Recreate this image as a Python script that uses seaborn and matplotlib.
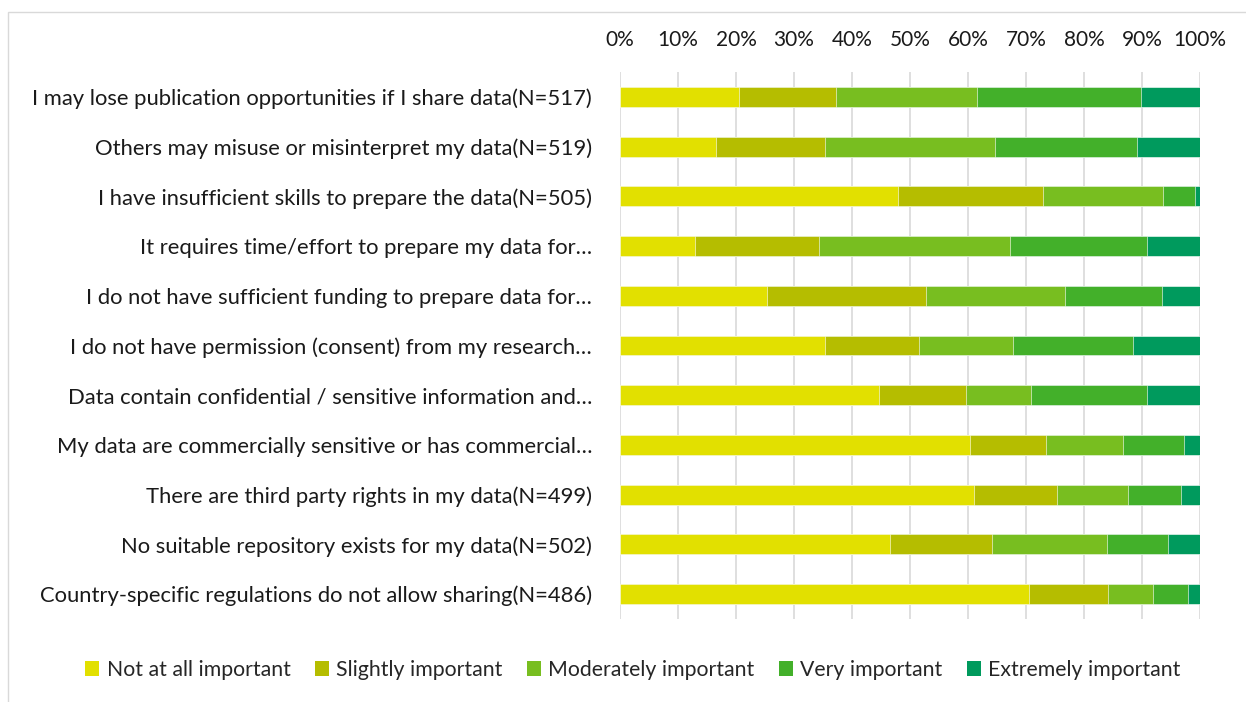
import matplotlib
matplotlib.use("Agg")
import matplotlib.pyplot as plt
import seaborn as sns
import pandas as pd
import numpy as np
from matplotlib.patches import Rectangle, Patch

categories = [
    "I may lose publication opportunities if I share data(N=517)",
    "Others may misuse or misinterpret my data(N=519)",
    "I have insufficient skills to prepare the data(N=505)",
    "It requires time/effort to prepare my data for\u2026",
    "I do not have sufficient funding to prepare data for\u2026",
    "I do not have permission (consent) from my research\u2026",
    "Data contain confidential / sensitive information and\u2026",
    "My data are commercially sensitive or has commercial\u2026",
    "There are third party rights in my data(N=499)",
    "No suitable repository exists for my data(N=502)",
    "Country-specific regulations do not allow sharing(N=486)",
]
series_names = ["Not at all important", "Slightly important", "Moderately important",
                "Very important", "Extremely important"]
not_at_all = [20.6, 16.6, 48.0, 13.0, 25.4, 35.3, 44.7, 60.3, 61.1, 46.6, 70.5]
slightly   = [16.7, 18.8, 24.9, 21.3, 27.4, 16.2, 14.9, 13.2, 14.3, 17.5, 13.7]
moderately = [24.2, 29.2, 20.7, 33.0, 24.0, 16.2, 11.3, 13.3, 12.2, 19.9, 7.7]
very       = [28.4, 24.6, 5.6, 23.5, 16.6, 20.8, 19.9, 10.4, 9.2, 10.4, 6.1]
extremely  = [10.1, 10.8, 0.8, 9.2, 6.6, 11.5, 9.2, 2.8, 3.2, 5.6, 2.0]
colors = ["#E2E000", "#B5BD00", "#78BE20", "#43B02A", "#009A5D"]
tick_labels = [f"{v}%" for v in range(0, 101, 10)]

sns.set_theme(style="white")
plt.rcParams['font.family'] = ['Lato', 'DejaVu Sans']

series = [not_at_all, slightly, moderately, very, extremely]
cum = np.cumsum(np.array(series), axis=0)

fig = plt.figure(figsize=(12.46, 7.02), dpi=100)
ax = fig.add_axes([620/1246, 1 - 619/702, 580/1246, (619-72)/702])

for i in range(len(series) - 1, -1, -1):
    d = pd.DataFrame({"category": categories, "value": cum[i]})
    sns.barplot(data=d, x="value", y="category", color=colors[i], ax=ax,
                width=0.4, edgecolor="white", linewidth=0.4, saturation=1,
                orient="h", zorder=3)

FS = 15.8
ax.set_xlim(0, 100)
ax.set_ylim(10.5, -0.5)
ax.set_xticks(range(0, 101, 10))
ax.set_xticklabels(tick_labels)
ax.xaxis.tick_top()
ax.tick_params(axis="x", length=0, pad=16, labelsize=15, colors="#1a1a1a")
ax.tick_params(axis="y", length=0, pad=20, labelsize=FS, colors="#1a1a1a")
ax.set_xlabel("")
ax.set_ylabel("")
ax.grid(axis="x", color="#D9D9D9", linewidth=1.2, zorder=0)
for s in ax.spines.values():
    s.set_visible(False)

# chart border
fig.patches.append(Rectangle((8/1246, -0.1), 1.2, 1 - 12/702 + 0.1, transform=fig.transFigure,
                             fill=False, edgecolor="#D9D9D9", linewidth=1.0))

handles = [Patch(facecolor=c, edgecolor="none") for c in colors]
fig.legend(handles, series_names, loc="center", bbox_to_anchor=(633/1246, 1 - 670/702),
           ncol=5, frameon=False, fontsize=15.3, handlelength=0.65, handleheight=0.65,
           handletextpad=0.35, columnspacing=1.15)

fig.savefig("out.png", dpi=100)
